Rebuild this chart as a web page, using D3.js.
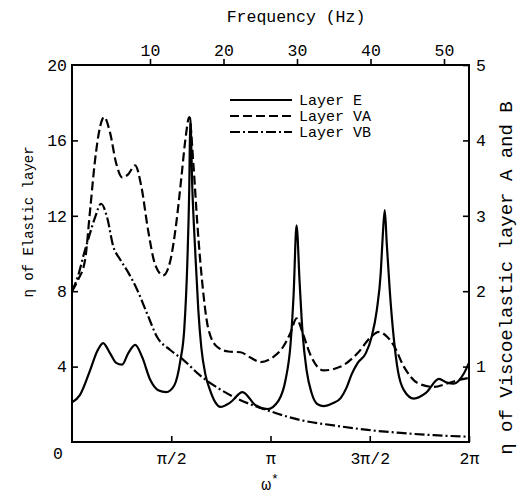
<!DOCTYPE html>
<html>
<head>
<meta charset="utf-8">
<script src="https://cdn.jsdelivr.net/npm/d3@7"></script>
<style>
    body { margin: 0; background: #fff; }
    svg { display: block; font-family: 'Liberation Mono', 'Courier New', monospace; }
</style>
</head>
<body>
<div id="container"></div>
<script>
'use strict';

//Data: omega* (rad) and loss factor eta for each layer
const omegaE = [0.000, 0.127, 0.286, 0.397, 0.492, 0.603, 0.698, 0.793, 0.889, 1.000, 1.111, 1.238, 1.365, 1.492,
    1.618, 1.714, 1.777, 1.825, 1.856, 1.872, 1.904, 1.952, 1.999, 2.047, 2.110, 2.190, 2.269, 2.348, 2.507, 2.698,
    2.904, 3.094, 3.269, 3.380, 3.459, 3.507, 3.554, 3.602, 3.649, 3.713, 3.792, 3.887, 3.983, 4.125, 4.252, 4.347,
    4.427, 4.522, 4.649, 4.744, 4.824, 4.887, 4.919, 4.950, 4.982, 5.030, 5.093, 5.157, 5.252, 5.411, 5.601, 5.807,
    5.934, 6.045, 6.204, 6.283];
const etaE = [2.1, 2.5, 3.8, 4.8, 5.25, 4.7, 4.2, 4.1, 4.7, 5.15, 4.5, 3.3, 2.75, 2.65,
    3.0, 4.3, 6.0, 9.5, 13.5, 17.2, 13.5, 10.0, 7.0, 5.0, 3.6, 2.7, 2.1, 1.86, 2.1, 2.65,
    1.95, 1.75, 2.2, 3.3, 5.2, 7.8, 11.5, 8.5, 5.8, 3.8, 2.6, 2.0, 1.9, 2.05, 2.33, 2.9,
    3.6, 4.2, 4.7, 5.6, 7.0, 9.0, 11.0, 12.3, 10.5, 8.0, 5.5, 3.8, 2.75, 2.3, 2.6, 3.35,
    3.15, 3.1, 3.65, 4.2];

const omegaVA = [0.000, 0.095, 0.206, 0.286, 0.365, 0.444, 0.508, 0.603, 0.698, 0.793, 0.889, 1.000, 1.095, 1.206,
    1.317, 1.444, 1.555, 1.650, 1.730, 1.793, 1.856, 1.920, 1.983, 2.063, 2.158, 2.301, 2.475, 2.666, 2.824, 2.983,
    3.173, 3.332, 3.459, 3.554, 3.649, 3.776, 3.983, 4.252, 4.522, 4.728, 4.855, 4.982, 5.093, 5.252, 5.474, 5.728,
    5.950, 6.109, 6.283];
const etaVA = [2.0, 2.15, 2.41, 3.07, 3.74, 4.18, 4.31, 4.1, 3.7, 3.51, 3.55, 3.67, 3.4, 2.8,
    2.35, 2.21, 2.4, 2.9, 3.5, 4.0, 4.31, 3.7, 2.9, 2.1, 1.5, 1.26, 1.2, 1.19, 1.12, 1.06,
    1.12, 1.25, 1.45, 1.64, 1.45, 1.15, 0.95, 1.0, 1.18, 1.39, 1.46, 1.4, 1.28, 1.0, 0.78, 0.73,
    0.78, 0.82, 0.85];

const omegaVB = [0.000, 0.095, 0.190, 0.286, 0.365, 0.460, 0.555, 0.651, 0.762, 0.889, 1.031, 1.190, 1.349, 1.555,
    1.761, 2.031, 2.301, 2.555, 2.824, 3.094, 3.618, 4.141, 4.681, 5.204, 5.728, 6.283];
const etaVB = [2.0, 2.2, 2.5, 2.77, 2.98, 3.16, 2.98, 2.6, 2.42, 2.25, 2.02, 1.7, 1.39, 1.22,
    1.09, 0.88, 0.72, 0.6, 0.5, 0.42, 0.29, 0.22, 0.16, 0.12, 0.09, 0.07];

//Tick values and labels
const omegaTicks = [Math.PI / 2, Math.PI, 3 * Math.PI / 2, 2 * Math.PI];
const omegaTickLabels = ['π/2', 'π', '3π/2', '2π'];
const freqTicks = [10, 20, 30, 40, 50];
const leftTicks = [0, 4, 8, 12, 16, 20];
const rightTicks = [1, 2, 3, 4, 5];

const legendNames = ['Layer E', 'Layer VA', 'Layer VB'];

//Sizing
const VIZ = {
    WIDTH: 517,
    HEIGHT: 496,
    LEFT: 72,
    RIGHT: 469,
    TOP: 65,
    BOTTOM: 442,
};
const FONT = 16.5;
const dashes = ['none', '9,4', '10,3,2,3'];

const svg = d3.select('#container')
    .append('svg')
    .attr('width', VIZ.WIDTH)
    .attr('height', VIZ.HEIGHT);

//Scales
const x = d3.scaleLinear().domain([0, 2 * Math.PI]).range([VIZ.LEFT, VIZ.RIGHT]);
const freq = d3.scaleLinear().domain([-0.61, 53.4]).range([VIZ.LEFT, VIZ.RIGHT]);
const yLeft = d3.scaleLinear().domain([0, 20]).range([VIZ.BOTTOM, VIZ.TOP]);
const yRight = d3.scaleLinear().domain([0, 5]).range([VIZ.BOTTOM, VIZ.TOP]);

//Axes
drawAxis(d3.axisBottom(x).tickValues(omegaTicks).tickFormat((d, i) => omegaTickLabels[i])
    .tickSize(-6).tickPadding(10), 0, VIZ.BOTTOM);
drawAxis(d3.axisTop(freq).tickValues(freqTicks).tickSize(6).tickPadding(3), 0, VIZ.TOP);
const left = drawAxis(d3.axisLeft(yLeft).tickValues(leftTicks).tickSize(-6).tickPadding(5), VIZ.LEFT, 0);
drawAxis(d3.axisRight(yRight).tickValues(rightTicks).tickFormat(d3.format('d'))
    .tickSize(-6).tickPadding(7), VIZ.RIGHT, 0);

//No tick marks at the corners, shift the 0 label below the corner
left.selectAll('.tick').filter(d => d === 0 || d === 20).select('line').remove();
left.selectAll('.tick').filter(d => d === 0).select('text').attr('dy', '1.0em').attr('x', -9);

//Frame
svg.append('rect')
    .attr('x', VIZ.LEFT)
    .attr('y', VIZ.TOP)
    .attr('width', VIZ.RIGHT - VIZ.LEFT)
    .attr('height', VIZ.BOTTOM - VIZ.TOP)
    .attr('fill', 'none')
    .attr('stroke', '#000')
    .attr('stroke-width', 2);

//Curves
const series = [
    {omega: omegaE, eta: etaE, scale: yLeft},
    {omega: omegaVA, eta: etaVA, scale: yRight},
    {omega: omegaVB, eta: etaVB, scale: yRight},
];
series.forEach((s, i) => {
    const line = d3.line()
        .x(d => x(d[0]))
        .y(d => s.scale(d[1]))
        .curve(d3.curveMonotoneX);
    svg.append('path')
        .datum(d3.zip(s.omega, s.eta))
        .attr('d', line)
        .attr('fill', 'none')
        .attr('stroke', '#000')
        .attr('stroke-width', 2.2)
        .attr('stroke-linejoin', 'round')
        .attr('stroke-dasharray', dashes[i]);
});

//Legend
legendNames.forEach((name, i) => {
    const yPos = 100 + i * 16;
    svg.append('line')
        .attr('x1', 230).attr('x2', 292)
        .attr('y1', yPos).attr('y2', yPos)
        .attr('stroke', '#000')
        .attr('stroke-width', 2.2)
        .attr('stroke-dasharray', dashes[i]);
    createText(svg, name, 299, yPos + 5, 15);
});

//Titles
createText(svg, 'Frequency (Hz)', 296, 22, FONT).attr('text-anchor', 'middle');
const omegaLabel = createText(svg, 'ω', 270, 490, FONT).attr('text-anchor', 'middle');
omegaLabel.append('tspan').attr('dy', -7).attr('font-size', 13).text('*');
createText(svg, 'η of Elastic layer', 0, 0, 14)
    .attr('text-anchor', 'middle')
    .attr('transform', 'translate(33 222) rotate(-90)');
createText(svg, 'η of Viscoelastic layer A and B', 0, 0, 19)
    .attr('text-anchor', 'middle')
    .attr('transform', 'translate(512 278) rotate(-90)');

//Create axis
function drawAxis(axis, left, top) {
    const g = svg.append('g')
        .attr('transform', `translate(${left}, ${top})`)
        .call(axis);
    g.select('.domain').remove();
    g.selectAll('.tick line').attr('stroke', '#000').attr('stroke-width', 1.6);
    g.selectAll('.tick text').attr('fill', '#000');
    g.attr('font-family', null).attr('font-size', FONT);
    return g;
}

//Create text
function createText(place, text, xPos, yPos, size) {
    return place.append('text')
        .attr('x', xPos)
        .attr('y', yPos)
        .attr('font-size', size)
        .attr('fill', '#000')
        .text(text);
}
</script>
</body>
</html>
